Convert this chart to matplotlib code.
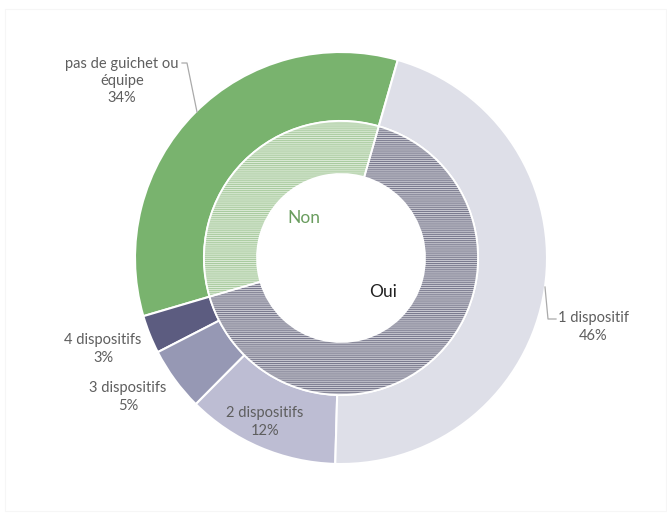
import numpy as np
import matplotlib
matplotlib.use('Agg')
import matplotlib.pyplot as plt
from matplotlib.patches import Rectangle

# Données : nombre de dispositifs (anneau extérieur) et Oui / Non (anneau intérieur)
cat_ext = ['pas de guichet ou\néquipe', '4 dispositifs', '3 dispositifs',
           '2 dispositifs', '1 dispositif']
val_ext = [34, 3, 5, 12, 46]
col_ext = ['#79b36e', '#5c5c80', '#9698b4', '#bdbdd3', '#dedfe8']

cat_int = ['Non', 'Oui']
val_int = [34, 66]
fond_int = ['#dcebd7', '#cbcbd3']
hach_int = ['#a9cb9f', '#7a7a8e']

plt.rcParams['font.family'] = ['Lato', 'DejaVu Sans']
plt.rcParams['hatch.linewidth'] = 0.75

W, H = 667, 513
fig = plt.figure(figsize=(W / 100, H / 100), dpi=100)
ax = fig.add_axes([0, 0, 1, 1])

cx, cy = 341, H - 258
r_ext, r_mid, r_trou = 206, 137, 84
depart = 74

# anneau extérieur
ax.pie(val_ext, colors=col_ext, startangle=depart, counterclock=True,
       center=(cx, cy), radius=r_ext,
       wedgeprops=dict(width=r_ext - r_mid, edgecolor='white', linewidth=1.5))

# anneau intérieur hachuré
wedges, _ = ax.pie(val_int, colors=fond_int, startangle=depart, counterclock=True,
                   center=(cx, cy), radius=r_mid,
                   wedgeprops=dict(width=r_mid - r_trou, linewidth=0))
for w, hc in zip(wedges, hach_int):
    w.set_hatch('--------')
    w.set_edgecolor(hc)
ax.pie(val_int, colors=['none', 'none'], startangle=depart, counterclock=True,
       center=(cx, cy), radius=r_mid,
       wedgeprops=dict(width=r_mid - r_trou, edgecolor='white', linewidth=1.3))

# pie() remet les limites à zéro : on les fixe après
ax.set_xlim(0, W)
ax.set_ylim(0, H)
ax.set_aspect('equal')
ax.axis('off')

# libellés
gris = '#5e5e5e'
fs = 10.5
def lab(x, y, txt):
    ax.text(x, H - y, txt, ha='center', va='center', fontsize=fs, color=gris,
            linespacing=1.3)

lab(122, 81, cat_ext[0] + '\n' + f'{val_ext[0]}%')
lab(103, 349, cat_ext[1] + '\n' + f'{val_ext[1]}%')
lab(128, 397, cat_ext[2] + '\n' + f'{val_ext[2]}%')
lab(265, 422, cat_ext[3] + '\n' + f'{val_ext[3]}%')
lab(593, 327, cat_ext[4] + '\n' + f'{val_ext[4]}%')

# traits de rappel
trait = dict(color='#aaaaaa', lw=0.9)
ax.plot([182, 187, 197], [H - 63, H - 63, H - 112], **trait)
ax.plot([545, 548, 556], [H - 287, H - 319, H - 319], **trait)

ax.text(304, H - 218, cat_int[0], ha='center', va='center', fontsize=12.5,
        color='#6a9d5f')
ax.text(383, H - 292, cat_int[1], ha='center', va='center', fontsize=12.5,
        color='#222222')

# cadre léger
ax.add_patch(Rectangle((5, 2), W - 6, H - 11, fill=False,
                       edgecolor='#f6f6f6', lw=0.8))

fig.savefig('out.png', dpi=100)
